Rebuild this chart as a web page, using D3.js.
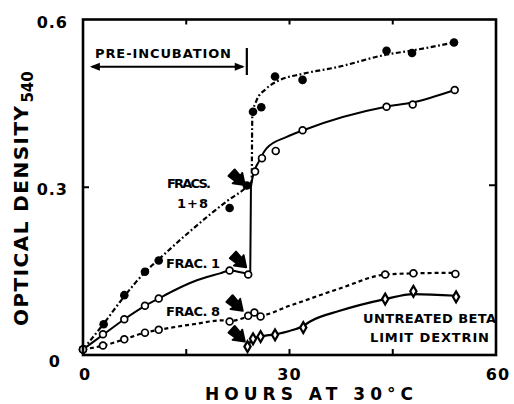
<!DOCTYPE html>
<html>
<head>
<meta charset="utf-8">
<script src="https://cdn.jsdelivr.net/npm/d3@7"></script>
<style>
  body { margin: 0; background: #fff; }
  text { font-family: "DejaVu Sans", sans-serif; font-weight: bold; fill: #000; }
</style>
</head>
<body>
<div id="viz"></div>
<script>
// measured points (hours, optical density)
const hFracs18 = [0, 3, 6, 9, 11, 21.3, 23.8, 24.7, 25.9, 27.9, 31.9, 44.1, 47.8, 53.9];
const odFracs18 = [0.01, 0.055, 0.107, 0.149, 0.169, 0.263, 0.303, 0.435, 0.443, 0.498, 0.492, 0.544, 0.540, 0.559];

const hFrac1 = [0, 2.9, 6, 9, 11, 21.3, 24, 25, 26, 28, 31.9, 44.1, 47.9, 54];
const odFrac1 = [0.01, 0.037, 0.064, 0.088, 0.101, 0.151, 0.144, 0.328, 0.352, 0.365, 0.402, 0.444, 0.448, 0.474];

const hFrac8 = [0, 2.9, 6, 9, 11, 21.3, 24, 24.9, 25.8, 43.9, 48, 54.1];
const odFrac8 = [0.01, 0.017, 0.028, 0.040, 0.045, 0.060, 0.070, 0.076, 0.069, 0.144, 0.146, 0.145];

const hDextrin = [23.9, 24.7, 25.8, 27.9, 32, 43.9, 48, 54.2];
const odDextrin = [0.015, 0.029, 0.033, 0.036, 0.049, 0.100, 0.114, 0.104];

// hand drawn curves
const fitHFracs18 = [0, 3, 6, 9, 11, 16, 21, 23.8, 24.5, 24.6, 25.2, 26.5, 28.3, 32, 37, 44, 48, 54];
const fitFracs18 = [0.01, 0.056, 0.105, 0.148, 0.171, 0.226, 0.276, 0.301, 0.31, 0.43, 0.455, 0.475, 0.49, 0.503, 0.515, 0.537, 0.545, 0.559];

const fitHFrac1 = [0, 3, 6, 9, 11, 13, 16, 19.9, 21.3, 24, 24.3, 24.4, 24.8, 25.5, 26.7, 29.6, 32, 44, 48, 54];
const fitFrac1 = [0.01, 0.037, 0.064, 0.088, 0.101, 0.114, 0.131, 0.146, 0.151, 0.146, 0.15, 0.30, 0.325, 0.345, 0.37, 0.39, 0.402, 0.444, 0.452, 0.474];

const fitHFrac8 = [0, 3, 6, 9, 11, 16, 20.3, 21.3, 24, 24.9, 25.8, 30, 37.3, 44, 48, 54];
const fitFrac8 = [0.01, 0.017, 0.028, 0.04, 0.045, 0.055, 0.062, 0.061, 0.07, 0.076, 0.071, 0.088, 0.119, 0.144, 0.146, 0.147];

const fitHDextrin = [23.9, 24.7, 25.8, 27.9, 30, 32, 33, 37.3, 43.9, 48, 54.2];
const fitDextrin = [0.015, 0.029, 0.033, 0.037, 0.043, 0.052, 0.06, 0.079, 0.100, 0.109, 0.106];

// pointer arrows (tip in hours / OD)
const arrowH = [23.5, 23.7, 23.2, 23.5];
const arrowOD = [0.304, 0.157, 0.079, 0.024];

const xTicks = [0, 15, 30, 45, 60];
const xLabels = ["0", "", "30", "", "60"];
const yTicks = [0, 0.3, 0.6];
const yLabels = ["0", "0.3", "0.6"];

const preStart = 1, preEnd = 23.5, preBar = 23.8;

const width = 514, height = 404;
const svg = d3.select("#viz").append("svg")
  .attr("width", width).attr("height", height);

const x = d3.scaleLinear().domain([0, 60]).range([83, 496]);
const y = d3.scaleLinear().domain([0, 0.6]).range([355, 19.5]);

const zip = (a, b) => a.map((v, i) => [v, b[i]]);
const line = d3.line().x(d => x(d[0])).y(d => y(d[1])).curve(d3.curveMonotoneX);

// curves
svg.append("path").attr("d", line(zip(fitHFracs18, fitFracs18)))
  .attr("fill", "none").attr("stroke", "#000").attr("stroke-width", 2.2)
  .attr("stroke-dasharray", "5,2.5,1.8,2.5");
svg.append("path").attr("d", line(zip(fitHFrac1, fitFrac1)))
  .attr("fill", "none").attr("stroke", "#000").attr("stroke-width", 2);
svg.append("path").attr("d", line(zip(fitHFrac8, fitFrac8)))
  .attr("fill", "none").attr("stroke", "#000").attr("stroke-width", 2.2)
  .attr("stroke-dasharray", "4,3");
svg.append("path").attr("d", line(zip(fitHDextrin, fitDextrin)))
  .attr("fill", "none").attr("stroke", "#000").attr("stroke-width", 2.2);

// markers
svg.append("g").selectAll("circle").data(zip(hFracs18, odFracs18)).enter()
  .append("circle").attr("cx", d => x(d[0])).attr("cy", d => y(d[1]))
  .attr("r", 4.3).attr("fill", "#000");
[zip(hFrac1, odFrac1), zip(hFrac8, odFrac8)].forEach(pts => {
  svg.append("g").selectAll("circle").data(pts).enter()
    .append("circle").attr("cx", d => x(d[0])).attr("cy", d => y(d[1]))
    .attr("r", 3.4).attr("fill", "#fff").attr("stroke", "#000").attr("stroke-width", 1.7);
});
svg.append("g").selectAll("path").data(zip(hDextrin, odDextrin)).enter()
  .append("path").attr("d", d3.symbol(d3.symbolDiamond, 34))
  .attr("transform", d => `translate(${x(d[0])},${y(d[1])})`)
  .attr("fill", "#fff").attr("stroke", "#000").attr("stroke-width", 2.2);

// frame
svg.append("rect").attr("x", 83).attr("y", 19.5).attr("width", 413).attr("height", 335.5)
  .attr("fill", "none").attr("stroke", "#000").attr("stroke-width", 2.6);

// ticks
const inner = xTicks.slice(1, -1);
svg.append("g").selectAll("line").data(inner).enter().append("line")
  .attr("x1", d => x(d)).attr("x2", d => x(d)).attr("y1", y(0)).attr("y2", y(0) - 6)
  .attr("stroke", "#000").attr("stroke-width", 2);
svg.append("g").selectAll("line").data(inner).enter().append("line")
  .attr("x1", d => x(d)).attr("x2", d => x(d)).attr("y1", y(0.6)).attr("y2", y(0.6) + 5)
  .attr("stroke", "#000").attr("stroke-width", 2);
svg.append("line").attr("x1", x(0)).attr("x2", x(0) + 6).attr("y1", y(0.3)).attr("y2", y(0.3))
  .attr("stroke", "#000").attr("stroke-width", 2);
svg.append("line").attr("x1", x(60)).attr("x2", x(60) - 7).attr("y1", y(0.3) - 2).attr("y2", y(0.3) - 2)
  .attr("stroke", "#000").attr("stroke-width", 2);

// tick labels
svg.append("g").selectAll("text").data(xTicks.map((t, i) => [t, xLabels[i]]).filter(d => d[1])).enter()
  .append("text").attr("x", d => x(d[0]) + (d[0] === 30 ? 0 : 2)).attr("y", 379.5)
  .attr("text-anchor", "middle").attr("font-size", 16).attr("letter-spacing", 1)
  .text(d => d[1]);
svg.append("g").selectAll("text").data(yTicks.map((t, i) => [t, yLabels[i]])).enter()
  .append("text").attr("x", d => d[0] === 0 ? 61 : 68).attr("y", d => y(d[0]) + 8 + (d[0] === 0 ? 4 : 0))
  .attr("text-anchor", "end").attr("font-size", 16).attr("letter-spacing", 1)
  .text(d => d[1]);

// axis titles
svg.append("text").attr("x", 205).attr("y", 399.5).attr("font-size", 17)
  .attr("textLength", 208).attr("lengthAdjust", "spacing")
  .text("HOURS  AT  30°C");
const yt = svg.append("text").attr("transform", "translate(28,326) rotate(-90)")
  .attr("font-size", 20);
yt.append("tspan").attr("textLength", 220).attr("lengthAdjust", "spacing").text("OPTICAL DENSITY");
yt.append("tspan").attr("font-size", 15).attr("dy", 5).attr("dx", 2).text("540");

// annotations
const label = (tx, ty, len, s) => svg.append("text").attr("x", tx).attr("y", ty)
  .attr("font-size", 13).attr("textLength", len).attr("lengthAdjust", "spacing").text(s);
label(95, 58, 136, "PRE-INCUBATION");
label(167, 188, 44, "FRACS.");
label(177, 208, 31, "1+8");
label(166, 268, 54, "FRAC. 1");
label(166, 316, 54, "FRAC. 8");
label(363, 323, 133, "UNTREATED BETA");
label(370, 342, 119, "LIMIT DEXTRIN");

// pre-incubation arrow
const ay = 66.7;
svg.append("line").attr("x1", x(preStart) + 2).attr("x2", x(preEnd) - 2).attr("y1", ay).attr("y2", ay)
  .attr("stroke", "#000").attr("stroke-width", 2);
svg.append("path").attr("d", `M${x(preStart)},${ay} l10,-4 l0,8 Z`).attr("fill", "#000");
svg.append("path").attr("d", `M${x(preEnd)},${ay} l-10,-4 l0,8 Z`).attr("fill", "#000");
svg.append("line").attr("x1", x(preBar)).attr("x2", x(preBar)).attr("y1", 48).attr("y2", 75)
  .attr("stroke", "#000").attr("stroke-width", 2.2);

// pointer arrows
svg.append("g").selectAll("path").data(zip(arrowH, arrowOD)).enter().append("path")
  .attr("d", "M0,0 L-10,-7 L-9,-3.5 L-18,-4.5 L-18,4.5 L-9,3.5 L-10,7 Z")
  .attr("transform", d => `translate(${x(d[0])},${y(d[1])}) rotate(43)`)
  .attr("fill", "#000").attr("stroke", "#000").attr("stroke-width", 2).attr("stroke-linejoin", "round");
</script>
</body>
</html>
